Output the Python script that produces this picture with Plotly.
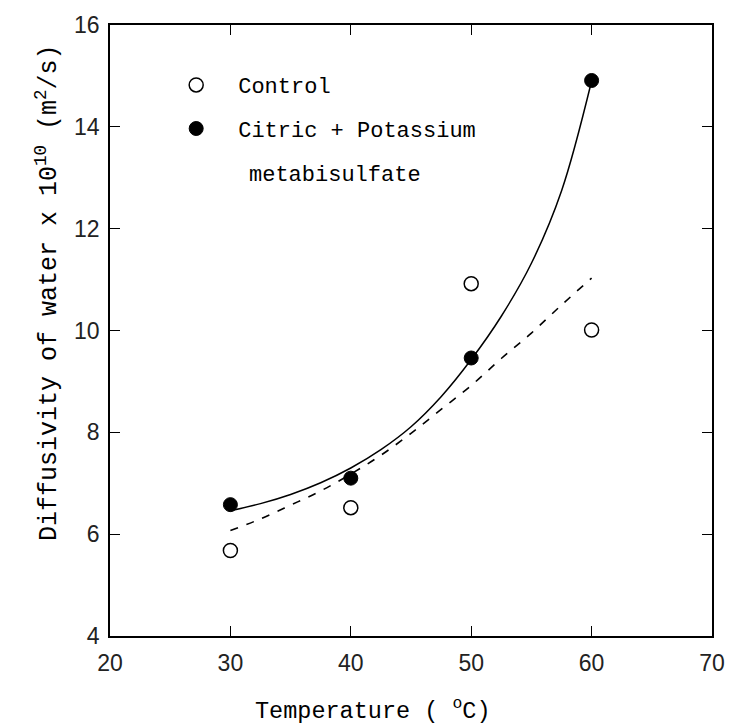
import plotly.graph_objects as go

# Measured points
temp = [30, 40, 50, 60]
control = [5.68, 6.52, 10.92, 10.01]
citric = [6.58, 7.10, 9.46, 14.91]

# Fitted curves
fit_temp = [30, 32.5, 35, 37.5, 40, 42.5, 45, 47.5, 50, 52.5, 55, 57.5, 60]
fit_citric = [6.46, 6.60, 6.78, 7.01, 7.30, 7.66, 8.11, 8.70, 9.43, 10.28, 11.32, 12.74, 14.90]
fit_control = [6.07, 6.30, 6.57, 6.85, 7.18, 7.55, 7.98, 8.45, 8.92, 9.45, 9.95, 10.50, 11.03]

x_ticks = [20, 30, 40, 50, 60, 70]
y_ticks = [4, 6, 8, 10, 12, 14, 16]

mono = "Liberation Mono"
sans = "Liberation Sans"

fig = go.Figure()

fig.add_trace(go.Scatter(x=fit_temp, y=fit_citric, mode="lines",
                         line=dict(color="black", width=1.5, shape="spline", smoothing=1.0),
                         showlegend=False, hoverinfo="skip"))
fig.add_trace(go.Scatter(x=fit_temp, y=fit_control, mode="lines",
                         line=dict(color="black", width=1.6, dash="8px,9px", shape="spline", smoothing=1.0),
                         showlegend=False, hoverinfo="skip"))

fig.add_trace(go.Scatter(x=temp, y=control, mode="markers", name="Control", legendgroup="a",
                         marker=dict(symbol="circle-open", size=14, color="black", line=dict(width=1.5, color="black"))))
fig.add_trace(go.Scatter(x=temp, y=citric, mode="markers", name="Citric + Potassium", legendgroup="b",
                         marker=dict(symbol="circle", size=14, color="black", line=dict(width=1, color="black"))))

axis_common = dict(showline=True, linecolor="black", linewidth=1.5, mirror="ticks", ticks="inside",
                   ticklen=10, tickwidth=1.3, tickcolor="black", showgrid=False, zeroline=False,
                   tickfont=dict(family=sans, size=23, color="#222"))

fig.update_xaxes(range=[20, 70], tickvals=x_ticks, ticklabelstandoff=6, **axis_common)
fig.update_yaxes(range=[4, 16], tickvals=y_ticks, ticklabelstandoff=4, **axis_common)

fig.update_layout(
    width=737, height=724,
    margin=dict(l=110, r=14, t=20, b=88),
    plot_bgcolor="white", paper_bgcolor="white",
    legend=dict(x=0.0734, y=0.936, xanchor="left", yanchor="top", font=dict(family=mono, size=22, color="black"),
                traceorder="grouped", tracegroupgap=12, valign="middle", bgcolor="rgba(0,0,0,0)", itemwidth=74),
    annotations=[
        dict(text="metabisulfate", xref="paper", yref="paper", x=0.2268, y=0.753,
             xanchor="left", yanchor="middle", showarrow=False, font=dict(family=mono, size=22, color="black")),
        dict(text="Temperature ( <sup>o</sup>C)", xref="paper", yref="paper", x=0.437, y=-0.12,
             xanchor="center", yanchor="middle", showarrow=False, font=dict(family=mono, size=23.5, color="black")),
        dict(text="Diffusivity of water x 10<sup>10</sup> (m<sup>2</sup>/s)", xref="paper", yref="paper",
             x=-0.104, y=0.562, xanchor="center", yanchor="middle", textangle=-90, showarrow=False,
             font=dict(family=mono, size=25, color="black")),
    ],
)

fig.write_html("out.html")
